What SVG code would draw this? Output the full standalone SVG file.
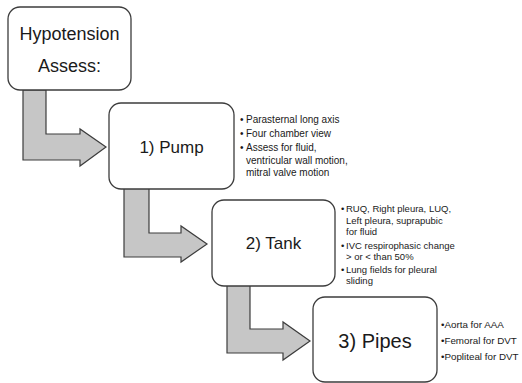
<svg xmlns="http://www.w3.org/2000/svg" width="522" height="383" viewBox="0 0 522 383">
<style>
.box{fill:#fff;stroke:#3c3c3c;stroke-width:1.3}
.arr{fill:#c6c6c6;stroke:#3c3c3c;stroke-width:1.2;stroke-linejoin:miter}
text{font-family:"Liberation Sans",Arial,sans-serif;fill:#1a1a1a}
.t{text-anchor:middle}
.b1{font-size:10px}
.b2{font-size:9.5px}
.b3{font-size:9.8px}
</style>
<rect width="522" height="383" fill="#fff"/>
<g id="connectors">
<polygon class="arr" points="23,90 46,90 46,134 80,134 80,129 106,147 80,166 80,160 23,160"/>
<polygon class="arr" points="124,188 149,188 149,233 181,233 181,226 207,244 181,262 181,257 124,257"/>
<polygon class="arr" points="227,285 250,285 250,329 283,329 283,322 310,341 283,360 283,353 227,353"/>
</g>
<g id="assess">
<rect class="box" x="8" y="7" width="123" height="83" rx="12"/>
<text class="t" x="69.5" y="40" font-size="18">Hypotension</text>
<text class="t" x="69.5" y="72" font-size="18">Assess:</text>
</g>
<g id="pump">
<rect class="box" x="109" y="103" width="125" height="86" rx="12"/>
<text class="t" x="171.5" y="153" font-size="17">1) Pump</text>
</g>
<g id="pump-notes" class="b1">
<text x="240" y="123">•</text><text x="246" y="123">Parasternal long axis</text>
<text x="240" y="137">•</text><text x="246" y="137">Four chamber view</text>
<text x="240" y="151">•</text><text x="246" y="151">Assess for fluid,</text>
<text x="246" y="164">ventricular wall motion,</text>
<text x="246" y="176">mitral valve motion</text>
</g>
<g id="tank">
<rect class="box" x="212" y="200" width="123" height="86" rx="12"/>
<text class="t" x="273.5" y="249" font-size="17">2) Tank</text>
</g>
<g id="tank-notes" class="b2">
<text x="341" y="212">•</text><text x="346" y="212">RUQ, Right pleura, LUQ,</text>
<text x="346" y="224">Left pleura, suprapubic</text>
<text x="346" y="235">for fluid</text>
<text x="341" y="249">•</text><text x="346" y="249">IVC respirophasic change</text>
<text x="346" y="260">&gt; or &lt; than 50%</text>
<text x="341" y="273">•</text><text x="346" y="273">Lung fields for pleural</text>
<text x="346" y="284">sliding</text>
</g>
<g id="pipes">
<rect class="box" x="313" y="297" width="124" height="85" rx="12"/>
<text class="t" x="375" y="348" font-size="20">3) Pipes</text>
</g>
<g id="pipes-notes" class="b3">
<text x="441" y="328">•Aorta for AAA</text>
<text x="441" y="344">•Femoral for DVT</text>
<text x="441" y="360">•Popliteal for DVT</text>
</g>
</svg>
